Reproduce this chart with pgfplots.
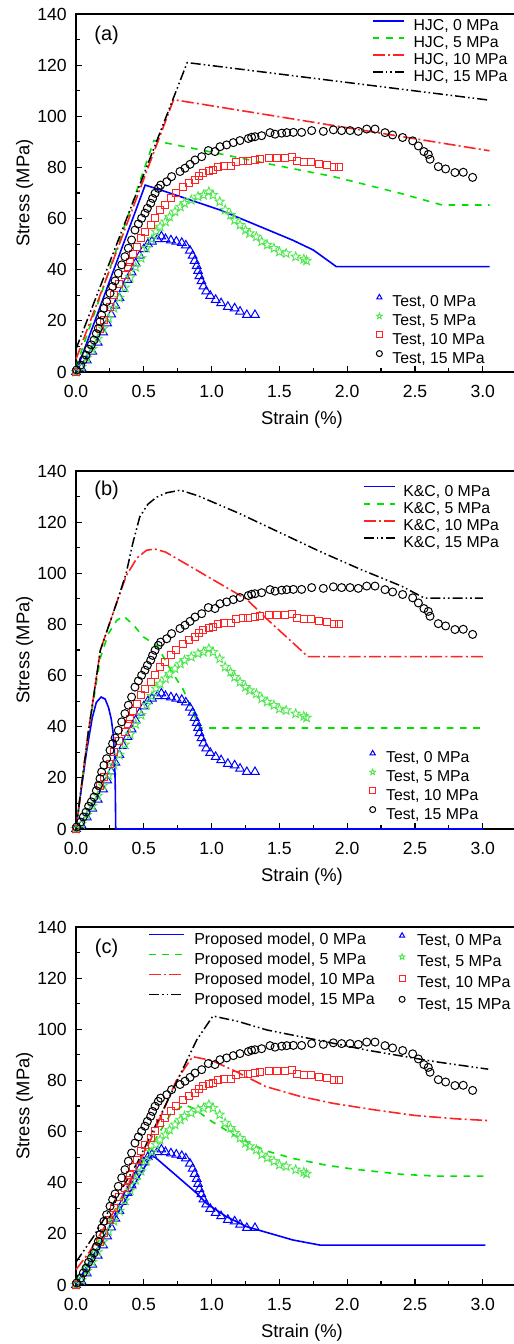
\documentclass[border=0pt]{standalone}
\usepackage{fontspec}
\setmainfont{Liberation Sans}
\usepackage{pgfplots}
\pgfplotsset{compat=1.18}
\usetikzlibrary{plotmarks}
\definecolor{cb}{RGB}{0,0,255}
\definecolor{cg}{RGB}{0,225,0}
\definecolor{cr}{RGB}{255,35,35}
\definecolor{cgs}{RGB}{80,230,80}
\pgfdeclareplotmark{ostar}{%
  \pgfpathmoveto{\pgfpointpolar{90}{\pgfplotmarksize}}%
  \pgfpathlineto{\pgfpointpolar{126}{0.42\pgfplotmarksize}}%
  \pgfpathlineto{\pgfpointpolar{162}{\pgfplotmarksize}}%
  \pgfpathlineto{\pgfpointpolar{198}{0.42\pgfplotmarksize}}%
  \pgfpathlineto{\pgfpointpolar{234}{\pgfplotmarksize}}%
  \pgfpathlineto{\pgfpointpolar{270}{0.42\pgfplotmarksize}}%
  \pgfpathlineto{\pgfpointpolar{306}{\pgfplotmarksize}}%
  \pgfpathlineto{\pgfpointpolar{342}{0.42\pgfplotmarksize}}%
  \pgfpathlineto{\pgfpointpolar{18}{\pgfplotmarksize}}%
  \pgfpathlineto{\pgfpointpolar{54}{0.42\pgfplotmarksize}}%
  \pgfpathclose
  \pgfusepathqstroke}
\pgfplotsset{
  base/.style={scale only axis, width=220pt, height=179pt,
    xmin=0, xmax=3.245, ymin=0, ymax=140, clip=false},
  frame/.style={base,
    axis line style={line width=0.6pt},
    tick pos=left,
    xtick={0,0.5,1,1.5,2,2.5,3}, ytick={0,20,40,60,80,100,120,140},
    minor x tick num=1, minor y tick num=1,
    major tick length=3pt, minor tick length=2pt,
    every tick/.style={black, line width=0.6pt},
    /pgf/number format/assume math mode=true,
    tick label style={font=\fontsize{8.8}{10}\selectfont},
    xticklabel style={yshift=-3pt, /pgf/number format/.cd, fixed, fixed zerofill, precision=1},
    yticklabel style={xshift=-1.1pt},
    xlabel={Strain (\%)}, ylabel={Stress (MPa)},
    label style={font=\fontsize{9.2}{11}\selectfont},
    xlabel style={at={(axis description cs:0.5136,-0.134)}, anchor=center},
    ylabel style={at={(axis description cs:-0.117,0.5)}, anchor=center},
    legend cell align=left,
    legend style={draw=none, fill=none, inner sep=0pt, outer sep=0pt, anchor=north west,
      nodes={inner sep=0pt, text height=5.6pt, text depth=1.6pt}},
  },
  over/.style={base, hide axis, legend cell align=left,
    legend style={draw=none, fill=none, inner sep=0pt, outer sep=0pt, anchor=north west,
      nodes={inner sep=0pt, text height=5.6pt, text depth=1.6pt}},
  },
  m0/.style={cb, line width=0.8pt, solid},
  m5/.style={cg, line width=0.8pt, dash pattern=on 3.3pt off 3.3pt},
  m10/.style={cr, line width=0.8pt, dash pattern=on 6pt off 1.6pt on 1pt off 1.6pt},
  m15/.style={black, line width=0.75pt, dash pattern=on 5pt off 1.5pt on 0.8pt off 1.5pt on 0.8pt off 1.5pt},
  tstimg/.style={legend image code/.code={\draw[##1,mark size=1.5pt] plot coordinates {(0pt,2.8pt)};}},
  t0/.style={only marks, cb, mark=triangle, mark size=2.5pt, mark options={solid, line width=0.5pt}, tstimg},
  t5/.style={only marks, cgs, mark=ostar, mark size=2.4pt, mark options={solid, line width=0.45pt}, tstimg},
  t10/.style={only marks, cr, mark=square, mark size=1.75pt, mark options={solid, line width=0.5pt}, tstimg},
  t15/.style={only marks, black, mark=o, mark size=2pt, mark options={solid, line width=0.5pt}, tstimg},
}
\newcommand{\testplots}{%
\addplot[t0] coordinates {(0,0) (0.04,1.5) (0.08,4.5) (0.12,8) (0.16,11.5) (0.2,15.5) (0.23,19) (0.26,22.5) (0.29,26) (0.32,29) (0.35,32.5) (0.38,36) (0.41,39) (0.44,42.5) (0.47,45.5) (0.5,48) (0.53,50) (0.56,51) (0.6,52) (0.63,53) (0.66,52) (0.7,51.5) (0.74,51) (0.78,50.5) (0.81,49.5) (0.84,47.5) (0.86,45.5) (0.875,43.5) (0.89,41.5) (0.9,39.5) (0.91,37.5) (0.925,35.5) (0.94,33.5) (0.96,31.5) (0.99,29.8) (1.03,28.2) (1.07,26.9) (1.12,25.5) (1.17,24.9) (1.21,23.6) (1.26,22.3) (1.32,22.3)};
\addlegendentry{Test, 0 MPa}
\addplot[t5] coordinates {(0,0) (0.04,2) (0.08,5.5) (0.12,9) (0.16,13) (0.2,17) (0.24,21) (0.28,25) (0.32,29) (0.36,33) (0.4,37) (0.44,41) (0.48,44.5) (0.52,48.5) (0.56,52) (0.59,54.9) (0.62,56.8) (0.66,58.8) (0.69,60.7) (0.73,62.7) (0.77,64.6) (0.8,66) (0.85,67.3) (0.9,68.6) (0.94,69.2) (0.98,70.5) (1.01,69.2) (1.06,66.6) (1.1,63.4) (1.14,61.4) (1.17,59.4) (1.21,57.5) (1.25,55.5) (1.28,54.2) (1.33,52.9) (1.37,51) (1.41,49.7) (1.46,48.4) (1.5,47) (1.55,46.4) (1.62,45.1) (1.68,44.1) (1.7,43.5)};
\addlegendentry{Test, 5 MPa}
\addplot[t10] coordinates {(0,0) (0.18,16.8) (0.21,20.5) (0.25,25.5) (0.28,30) (0.32,34.5) (0.36,37.9) (0.38,41.2) (0.4,43.1) (0.42,46) (0.45,49) (0.48,52.3) (0.51,54.9) (0.55,57.5) (0.58,60.4) (0.62,63.4) (0.66,65.3) (0.7,67.9) (0.74,69.9) (0.79,72.5) (0.83,73.8) (0.88,75.1) (0.91,76.7) (0.94,77.7) (0.98,78.7) (1.01,79) (1.05,80.1) (1.09,80.7) (1.14,80.7) (1.18,82) (1.23,82.7) (1.27,82.5) (1.32,82.9) (1.36,83.2) (1.42,83.6) (1.48,83.6) (1.54,83.6) (1.59,84.2) (1.63,82.7) (1.68,82.3) (1.73,82.3) (1.79,81.4) (1.85,81) (1.9,80.1) (1.94,80.1)};
\addlegendentry{Test, 10 MPa}
\addplot[t15] coordinates {(0.005,0.8) (0.034,2.7) (0.054,4.7) (0.074,6.6) (0.093,8.9) (0.113,10.6) (0.133,12.5) (0.15,15) (0.165,17.1) (0.177,19.7) (0.189,22.3) (0.206,24.9) (0.226,27.5) (0.251,30.8) (0.27,33.4) (0.288,35.6) (0.312,38.6) (0.337,41.9) (0.361,45.1) (0.386,48.4) (0.41,51.6) (0.435,55.5) (0.46,57.9) (0.484,60.1) (0.509,62.1) (0.526,64) (0.551,66) (0.565,67.9) (0.583,69.9) (0.607,71.8) (0.624,73.1) (0.669,74.4) (0.705,76.4) (0.767,78.4) (0.804,79.7) (0.841,81.2) (0.878,82.9) (0.927,84.2) (0.976,86.6) (1.025,86.2) (1.062,88.1) (1.111,88.8) (1.16,89.7) (1.209,90.5) (1.271,91.3) (1.295,91.8) (1.32,92) (1.369,92.4) (1.431,93.6) (1.468,93) (1.517,93.4) (1.554,93.6) (1.603,93.7) (1.664,93.7) (1.738,94.4) (1.824,94.1) (1.898,94.7) (1.959,94.4) (2.021,94.4) (2.082,94.1) (2.144,95) (2.205,95) (2.279,93.6) (2.335,92.7) (2.409,91.7) (2.483,90.4) (2.525,88.4) (2.566,86.2) (2.598,85.1) (2.611,83.2) (2.672,80.3) (2.726,79.4) (2.795,78) (2.856,78.1) (2.925,76.1)};
\addlegendentry{Test, 15 MPa}
}
\begin{document}
\begin{tikzpicture}
% ---------------- (a) ----------------
\begin{axis}[frame, at={(38pt,486pt)}, anchor=south west,
  legend style={at={(0.6727,0.985)}, font=\fontsize{7.9}{9}\selectfont, row sep=1.3pt, column sep=4.5pt},
  legend image code/.code={\draw[#1] (0pt,2.8pt) -- (15.5pt,2.8pt);}]
\addplot[m0] coordinates {(0,0) (0.51,73.1) (0.64,70.9) (1.06,63.4) (1.36,56.8) (1.6,51.5) (1.75,47.7) (1.92,41.2) (3.05,41.2)};
\addlegendentry{HJC, 0 MPa}
\addplot[m5] coordinates {(0,2) (0.575,90.5) (1.0,86) (1.4,81.6) (1.9,76.4) (2.39,69.9) (2.7,65.3) (3.05,65.3)};
\addlegendentry{HJC, 5 MPa}
\addplot[m10] coordinates {(0,5) (0.72,106.5) (3.05,86.5)};
\addlegendentry{HJC, 10 MPa}
\addplot[m15] coordinates {(0,9) (0.82,121) (3.05,106.3)};
\addlegendentry{HJC, 15 MPa}
\node[font=\fontsize{10}{12}\selectfont] at (axis cs:0.226,131.8) {(a)};
\end{axis}
\begin{axis}[over, at={(38pt,486pt)}, anchor=south west,
  legend style={at={(0.6827,0.2168)}, font=\fontsize{7.9}{9}\selectfont, row sep=1.47pt, column sep=5.0pt}]
\testplots
\end{axis}
% ---------------- (b) ----------------
\begin{axis}[frame, at={(38pt,257.5pt)}, anchor=south west,
  legend style={at={(0.6523,0.9606)}, font=\fontsize{7.9}{9}\selectfont, row sep=1.35pt, column sep=3.85pt},
  legend image code/.code={\draw[#1] (0pt,2.8pt) -- (15.5pt,2.8pt);}]
\addplot[m0] coordinates {(0,0) (0.04,16) (0.08,31) (0.12,43.5) (0.15,49.5) (0.185,51.6) (0.215,50.8) (0.24,47.5) (0.26,43) (0.275,37) (0.285,28) (0.29,15) (0.293,0) (3.0,0)};
\addlegendentry{K\&C, 0 MPa}
\addplot[m5] coordinates {(0,0) (0.09,37.5) (0.18,67) (0.24,76.5) (0.3,81.5) (0.35,83.3) (0.42,80) (0.5,75) (0.6,71.6) (0.7,62) (0.79,54.6) (0.86,46) (0.914,39.5) (3.0,39.5)};
\addlegendentry{K\&C, 5 MPa}
\addplot[m10] coordinates {(0,0) (0.09,37.5) (0.18,70) (0.3,88.5) (0.37,99) (0.45,106) (0.52,109) (0.58,109.5) (0.66,108.3) (0.8,104) (1.0,97.8) (1.26,89.8) (1.41,82) (1.6,72.8) (1.71,67.4) (3.0,67.4)};
\addlegendentry{K\&C, 10 MPa}
\addplot[m15] coordinates {(0,0) (0.09,37.5) (0.18,70) (0.3,88.5) (0.37,100) (0.42,112) (0.47,122) (0.53,127) (0.595,129.8) (0.67,131.5) (0.77,132.5) (0.9,130.3) (1.2,123.5) (1.5,116) (1.8,108.5) (2.1,101.5) (2.4,95) (2.57,90.3) (3.0,90.3)};
\addlegendentry{K\&C, 15 MPa}
\node[font=\fontsize{10}{12}\selectfont] at (axis cs:0.226,132.3) {(b)};
\end{axis}
\begin{axis}[over, at={(38pt,257.5pt)}, anchor=south west,
  legend style={at={(0.6675,0.2196)}, font=\fontsize{7.9}{9}\selectfont, row sep=1.47pt, column sep=5.2pt}]
\testplots
\end{axis}
% ---------------- (c) ----------------
\begin{axis}[frame, at={(38pt,29.5pt)}, anchor=south west,
  legend style={at={(0.1643,0.984)}, font=\fontsize{8}{9.5}\selectfont, row sep=2.6pt, column sep=4.7pt, nodes={text height=5.8pt}},
  legend image code/.code={\draw[#1] (0pt,2.85pt) -- (17.5pt,2.85pt);}]
\addplot[m0] coordinates {(0,0) (0.56,51) (0.72,43.7) (0.89,35.9) (0.96,32) (1.11,26.7) (1.26,22.8) (1.41,20.5) (1.6,17.6) (1.8,15.6) (3.02,15.6)};
\addlegendentry{Proposed model, 0 MPa}
\addplot[m5] coordinates {(0,2) (0.3,29.5) (0.55,54) (0.7,67) (0.8,70.5) (0.87,69) (1.0,64) (1.2,57.5) (1.4,52.5) (1.6,49.5) (1.85,46.8) (2.05,45.3) (2.4,43.3) (2.65,42.6) (3.05,42.6)};
\addlegendentry{Proposed model, 5 MPa}
\addplot[m10] coordinates {(0,6) (0.1,13) (0.3,30.5) (0.55,56.7) (0.74,80) (0.86,89.3) (1.0,87.8) (1.16,84) (1.4,77.6) (1.65,73.8) (1.9,71) (2.2,68.5) (2.5,66.3) (2.8,65) (3.04,64.3)};
\addlegendentry{Proposed model, 10 MPa}
\addplot[m15] coordinates {(0,9) (0.13,19) (0.45,47.6) (0.69,73.6) (0.89,95.8) (1.01,105.2) (1.2,103) (1.41,99.7) (1.78,95.8) (2.14,91.9) (2.64,87.4) (3.04,84.4)};
\addlegendentry{Proposed model, 15 MPa}
\node[font=\fontsize{10}{12}\selectfont] at (axis cs:0.226,131.7) {(c)};
\end{axis}
\begin{axis}[over, at={(38pt,29.5pt)}, anchor=south west,
  legend style={at={(0.7343,0.984)}, font=\fontsize{8}{9.5}\selectfont, row sep=2.6pt, column sep=6.0pt, nodes={text height=5.8pt}}]
\testplots
\end{axis}
\pgfresetboundingbox
\path[use as bounding box] (0pt,0pt) rectangle (257pt,672pt);
\end{tikzpicture}
\end{document}
